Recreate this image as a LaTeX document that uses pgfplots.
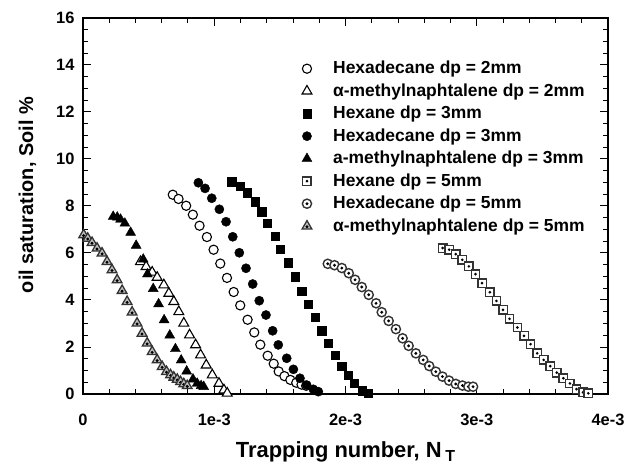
\documentclass[border=0pt]{standalone}
\usepackage{pgfplots}
\pgfplotsset{compat=1.18}
\usepackage{fontspec}
\setmainfont{Liberation Sans}

\pgfdeclareplotmark{tri}{%
  \pgfpathmoveto{\pgfpointpolar{90}{1.3\pgfplotmarksize}}%
  \pgfpathlineto{\pgfpointpolar{210}{1.3\pgfplotmarksize}}%
  \pgfpathlineto{\pgfpointpolar{330}{1.3\pgfplotmarksize}}%
  \pgfpathclose\pgfusepathqfillstroke}
\pgfdeclareplotmark{tdot}{%
  \pgfpathmoveto{\pgfpointpolar{90}{1.3\pgfplotmarksize}}%
  \pgfpathlineto{\pgfpointpolar{210}{1.3\pgfplotmarksize}}%
  \pgfpathlineto{\pgfpointpolar{330}{1.3\pgfplotmarksize}}%
  \pgfpathclose\pgfusepathqfillstroke
  \pgfscope\pgfsetfillcolor{black}%
  \pgfpathcircle{\pgfpoint{0pt}{-0.15\pgfplotmarksize}}{0.38\pgfplotmarksize}\pgfusepathqfill\endpgfscope}
\pgfdeclareplotmark{sqdot}{%
  \pgfpathrectangle{\pgfpoint{-\pgfplotmarksize}{-\pgfplotmarksize}}{\pgfpoint{2\pgfplotmarksize}{2\pgfplotmarksize}}%
  \pgfusepathqfillstroke
  \pgfscope\pgfsetfillcolor{black}%
  \pgfpathcircle{\pgfpointorigin}{0.35\pgfplotmarksize}\pgfusepathqfill\endpgfscope}
\pgfdeclareplotmark{cdot}{%
  \pgfpathcircle{\pgfpointorigin}{\pgfplotmarksize}\pgfusepathqfillstroke
  \pgfscope\pgfsetfillcolor{black}%
  \pgfpathcircle{\pgfpointorigin}{0.35\pgfplotmarksize}\pgfusepathqfill\endpgfscope}

\begin{document}
\begin{tikzpicture}
\begin{axis}[
  scale only axis, width=525bp, height=376bp,
  xmin=0, xmax=4, ymin=0, ymax=16,
  xtick={0,1,2,3,4}, xticklabels={0,1e-3,2e-3,3e-3,4e-3},
  ytick={0,2,...,16},
  minor x tick num=4, minor y tick num=3,
  tick align=inside, major tick length=8bp, minor tick length=5bp,
  axis line style={line width=1.2bp},
  every tick/.style={black, line width=1bp},
  /pgf/number format/assume math mode=true,
  tick label style={font=\bfseries\fontsize{16.5}{16.5}\selectfont},
  xticklabel style={yshift=-17bp},
  yticklabel style={xshift=-5bp},
  xlabel={Trapping number, N\,\raisebox{-0.4ex}{\fontsize{16}{16}\selectfont T}},
  ylabel={oil saturation, Soil \%},
  xlabel style={font=\bfseries\fontsize{22}{22}\selectfont, at={(axis description cs:0.5,-0.1676)}, anchor=base},
  ylabel style={font=\bfseries\fontsize{20}{20}\selectfont, at={(axis description cs:-0.0952,0.529)}, anchor=base},
  clip=false,
  legend cell align=left,
  legend image code/.code={\path (0bp,0bp) (24bp,0bp); \draw[mark repeat=2,mark phase=2,#1] plot coordinates {(0bp,0bp)(12bp,0bp)(24bp,0bp)};},
  legend style={draw=none, fill=none, inner sep=0pt,
    at={(axis description cs:0.403,0.887)}, anchor=north west,
    font=\bfseries\fontsize{17.5}{17.5}\selectfont,
    nodes={inner sep=0pt, text height=13bp, text depth=3bp},
    row sep=6.5bp, column sep=14bp},
]
% Hexadecane dp = 2mm
\addplot[only marks, mark=*, mark size=4.6bp, mark options={draw=black, fill=white, line width=1.1bp}] coordinates {
(0.684,8.48)(0.728,8.30)(0.786,8.01)(0.837,7.63)(0.888,7.16)(0.944,6.68)(0.995,6.14)(1.046,5.55)(1.097,4.94)(1.148,4.34)(1.198,3.77)(1.254,3.16)(1.305,2.62)(1.351,2.10)(1.407,1.63)(1.453,1.29)(1.491,0.96)(1.535,0.76)(1.580,0.60)(1.625,0.48)(1.665,0.40)(1.700,0.35)};
\addlegendentry{Hexadecane dp = 2mm}
% alpha-methylnaphtalene dp = 2mm
\addplot[only marks, mark=tri, mark size=4.4bp, mark options={draw=black, fill=white, line width=1.1bp}] coordinates {
(0.438,5.63)(0.481,5.42)(0.527,5.18)(0.565,4.96)(0.616,4.64)(0.654,4.28)(0.692,3.93)(0.730,3.50)(0.768,3.01)(0.812,2.51)(0.858,2.09)(0.896,1.66)(0.939,1.23)(0.985,0.81)(1.036,0.45)(1.074,0.17)(1.099,0.03)};
\addlegendentry{α-methylnaphtalene dp = 2mm}
% Hexane dp = 3mm
\addplot[only marks, mark=square*, mark size=4.1bp, mark options={draw=black, fill=black}] coordinates {
(1.133,9.03)(1.196,8.85)(1.252,8.57)(1.310,8.18)(1.362,7.76)(1.404,7.26)(1.463,6.72)(1.501,6.16)(1.564,5.59)(1.615,4.99)(1.666,4.38)(1.717,3.82)(1.768,3.26)(1.819,2.69)(1.869,2.16)(1.920,1.66)(1.971,1.19)(2.020,0.81)(2.069,0.45)(2.130,0.14)(2.170,0.05)};
\addlegendentry{Hexane dp = 3mm}
% Hexadecane dp = 3mm
\addplot[only marks, mark=*, mark size=4.6bp, mark options={draw=black, fill=black}] coordinates {
(0.879,8.99)(0.930,8.75)(0.981,8.33)(1.039,7.86)(1.090,7.33)(1.141,6.69)(1.191,6.01)(1.242,5.35)(1.293,4.68)(1.343,3.97)(1.394,3.36)(1.445,2.69)(1.488,2.09)(1.552,1.52)(1.603,1.05)(1.653,0.67)(1.704,0.38)(1.755,0.20)(1.793,0.10)};
\addlegendentry{Hexadecane dp = 3mm}
% a-methylnaphtalene dp = 3mm
\addplot[only marks, mark=tri, mark size=4.4bp, mark options={draw=black, fill=black}] coordinates {
(0.230,7.55)(0.261,7.52)(0.286,7.43)(0.319,7.26)(0.363,6.87)(0.405,6.32)(0.459,5.73)(0.491,5.10)(0.535,4.48)(0.576,3.83)(0.618,3.15)(0.661,2.50)(0.704,1.92)(0.748,1.44)(0.790,0.97)(0.838,0.63)(0.870,0.45)(0.900,0.35)(0.920,0.31)};
\addlegendentry{a-methylnaphtalene dp = 3mm}
% Hexane dp = 5mm
\addplot[only marks, mark=sqdot, mark size=4.2bp, mark options={draw=black!80, fill=white, line width=1.4bp}] coordinates {
(2.74,6.21)(2.79,6.14)(2.84,5.95)(2.89,5.71)(2.94,5.43)(2.99,5.10)(3.04,4.72)(3.10,4.33)(3.15,3.96)(3.20,3.58)(3.25,3.20)(3.31,2.83)(3.36,2.47)(3.41,2.12)(3.46,1.73)(3.51,1.45)(3.56,1.19)(3.61,0.91)(3.66,0.67)(3.71,0.45)(3.76,0.21)(3.81,0.07)(3.85,0.03)};
\addlegendentry{Hexane dp = 5mm}
% Hexadecane dp = 5mm
\addplot[only marks, mark=cdot, mark size=4.6bp, mark options={draw=black!80, fill=white, line width=1.4bp}] coordinates {
(1.865,5.54)(1.916,5.48)(1.972,5.36)(2.025,5.14)(2.073,4.86)(2.124,4.55)(2.177,4.22)(2.233,3.86)(2.276,3.48)(2.329,3.11)(2.384,2.76)(2.435,2.37)(2.481,2.05)(2.536,1.73)(2.592,1.45)(2.638,1.19)(2.688,0.95)(2.739,0.74)(2.789,0.57)(2.840,0.43)(2.891,0.36)(2.936,0.31)(2.972,0.31)};
\addlegendentry{Hexadecane dp = 5mm}
% alpha-methylnaphtalene dp = 5mm
\addplot[only marks, mark=tdot, mark size=4.3bp, mark options={draw=black!80, fill=black!25, line width=1.3bp}] coordinates {
(0.005,6.77)(0.036,6.62)(0.069,6.44)(0.107,6.20)(0.145,5.99)(0.183,5.63)(0.221,5.28)(0.260,4.85)(0.298,4.40)(0.336,3.93)(0.374,3.48)(0.412,3.01)(0.450,2.58)(0.489,2.16)(0.527,1.80)(0.565,1.45)(0.603,1.16)(0.636,0.95)(0.667,0.81)(0.692,0.71)(0.718,0.62)(0.743,0.52)(0.768,0.43)(0.794,0.35)};
\addlegendentry{α-methylnaphtalene dp = 5mm}
\end{axis}
\pgfresetboundingbox
\path ([xshift=-83bp,yshift=-72bp]current axis.south west) rectangle ([xshift=31bp,yshift=18bp]current axis.north east);
\end{tikzpicture}
\end{document}
